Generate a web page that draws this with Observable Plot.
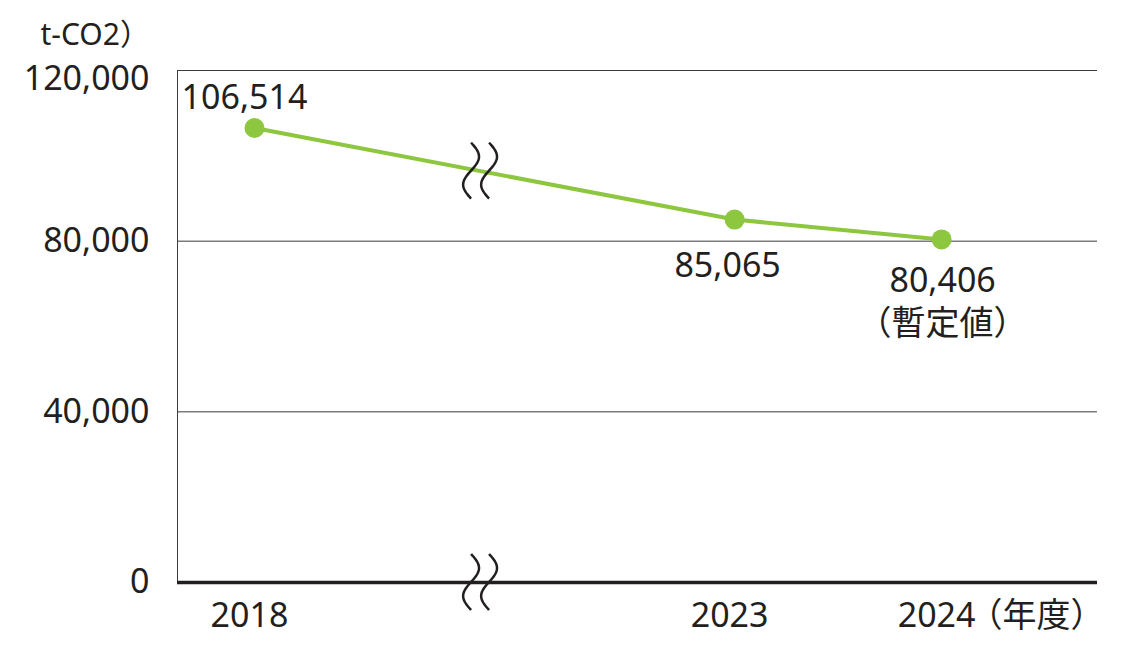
<!DOCTYPE html>
<html><head><meta charset="utf-8">
<script src="https://cdn.jsdelivr.net/npm/d3@7"></script>
<script src="https://cdn.jsdelivr.net/npm/@observablehq/plot@0.6"></script>
<style>body{margin:0;background:#fff}</style>
</head><body><div id="chart"></div>
<script>
// ---- data ----
const years = [2018, 2023, 2024];
const yearLabels = ["2018", "2023", "2024"];
const emissions = [106514, 85065, 80406];
const valueLabels = ["106,514", "85,065", "80,406\n（暫定値）"];
const yTicks = [0, 40000, 80000];
const yTopTick = [120000];
const gridTicks = [40000, 80000, 120000];
const unitLabel = "t-CO2）";
const xUnitLabel = "（年度）";

// ---- layout (axis break compresses 2018→2023) ----
const gapUnits = 2.319;
const breakAt = 1.092;
const pos = y => y <= 2018 ? y - 2018 : gapUnits + (y - 2023);
const data = years.map((y, i) => ({year: y, label: yearLabels[i], value: emissions[i], text: valueLabels[i], x: pos(y)}));

const ink = "#231f20";
const green = "#8dc63f";
const fs = 34;

function breakMark(index, scales) {
  const g = d3.create("svg:g");
  const cx = scales.x(breakAt);
  const a = data[0], b = data[1];
  const vAt = a.value + (b.value - a.value) * (breakAt - a.x) / (b.x - a.x);
  const ys = [scales.y(vAt), scales.y(0)];
  const wave = d3.line().x(d => d[0]).y(d => d[1]).curve(d3.curveBasis);
  const pts = d3.range(-28, 28.01, 2).map(t => [-8 * Math.sin(Math.PI * t / 28), t]);
  for (const cy of ys) {
    for (const off of [-9, 9]) {
      g.append("path")
        .attr("d", wave(pts.map(([px, py]) => [cx + off + px, cy + py])))
        .attr("fill", "none").attr("stroke", ink).attr("stroke-width", 2.5);
    }
  }
  return g.node();
}

const fmt = d3.format(",");
const chart = Plot.plot({
  width: 1123,
  height: 659,
  marginTop: 70,
  marginBottom: 77,
  marginLeft: 177,
  marginRight: 26,
  style: {fontFamily: "'Noto Sans', 'Noto Sans CJK JP', sans-serif", fontSize: fs + "px", color: ink, background: "#fff"},
  x: {domain: [-0.372, 4.072], axis: null},
  y: {domain: [0, 120000], axis: null},
  marks: [
    Plot.ruleY(gridTicks, {stroke: "#3a3a3a", strokeWidth: 1}),
    Plot.ruleX([-0.372], {y1: 0, y2: 120000, stroke: "#3a3a3a", strokeWidth: 1}),
    Plot.ruleY([0], {stroke: ink, strokeWidth: 3.5}),
    Plot.axisY({ticks: yTicks, tickFormat: fmt, tickSize: 0, tickPadding: 28, fontSize: fs, anchor: "left", label: null}),
    Plot.axisY({ticks: yTopTick, tickFormat: fmt, tickSize: 0, tickPadding: 28, fontSize: fs, anchor: "left", label: null, dy: 9}),
    Plot.line(data, {x: "x", y: "value", stroke: green, strokeWidth: 4}),
    Plot.dot(data, {x: "x", y: "value", r: 10, fill: green}),
    breakMark,
    Plot.text([data[0]], {x: "x", y: "value", text: "text", dx: -10, dy: -30, fontSize: fs, fill: ink}),
    Plot.text([data[1]], {x: "x", y: "value", text: "text", dx: -7, dy: 47, fontSize: fs, fill: ink}),
    Plot.text([data[2]], {x: "x", y: "value", text: "text", dx: 1, dy: 60, fontSize: fs, lineHeight: 1.27, fill: ink}),
    Plot.text(data, {x: "x", y: () => 0, text: "label", dx: -5, dy: 34, fontSize: fs, fill: ink}),
    Plot.text([data[2]], {x: "x", y: () => 0, text: () => xUnitLabel, textAnchor: "start", dx: 27, dy: 34, fontSize: fs, fill: ink}),
    Plot.text([unitLabel], {frameAnchor: "top-left", text: d => d, textAnchor: "start", lineAnchor: "middle", dx: -137, dy: -35, fontSize: 30, fill: ink})
  ]
});
document.getElementById("chart").appendChild(chart);
</script>
</body></html>
